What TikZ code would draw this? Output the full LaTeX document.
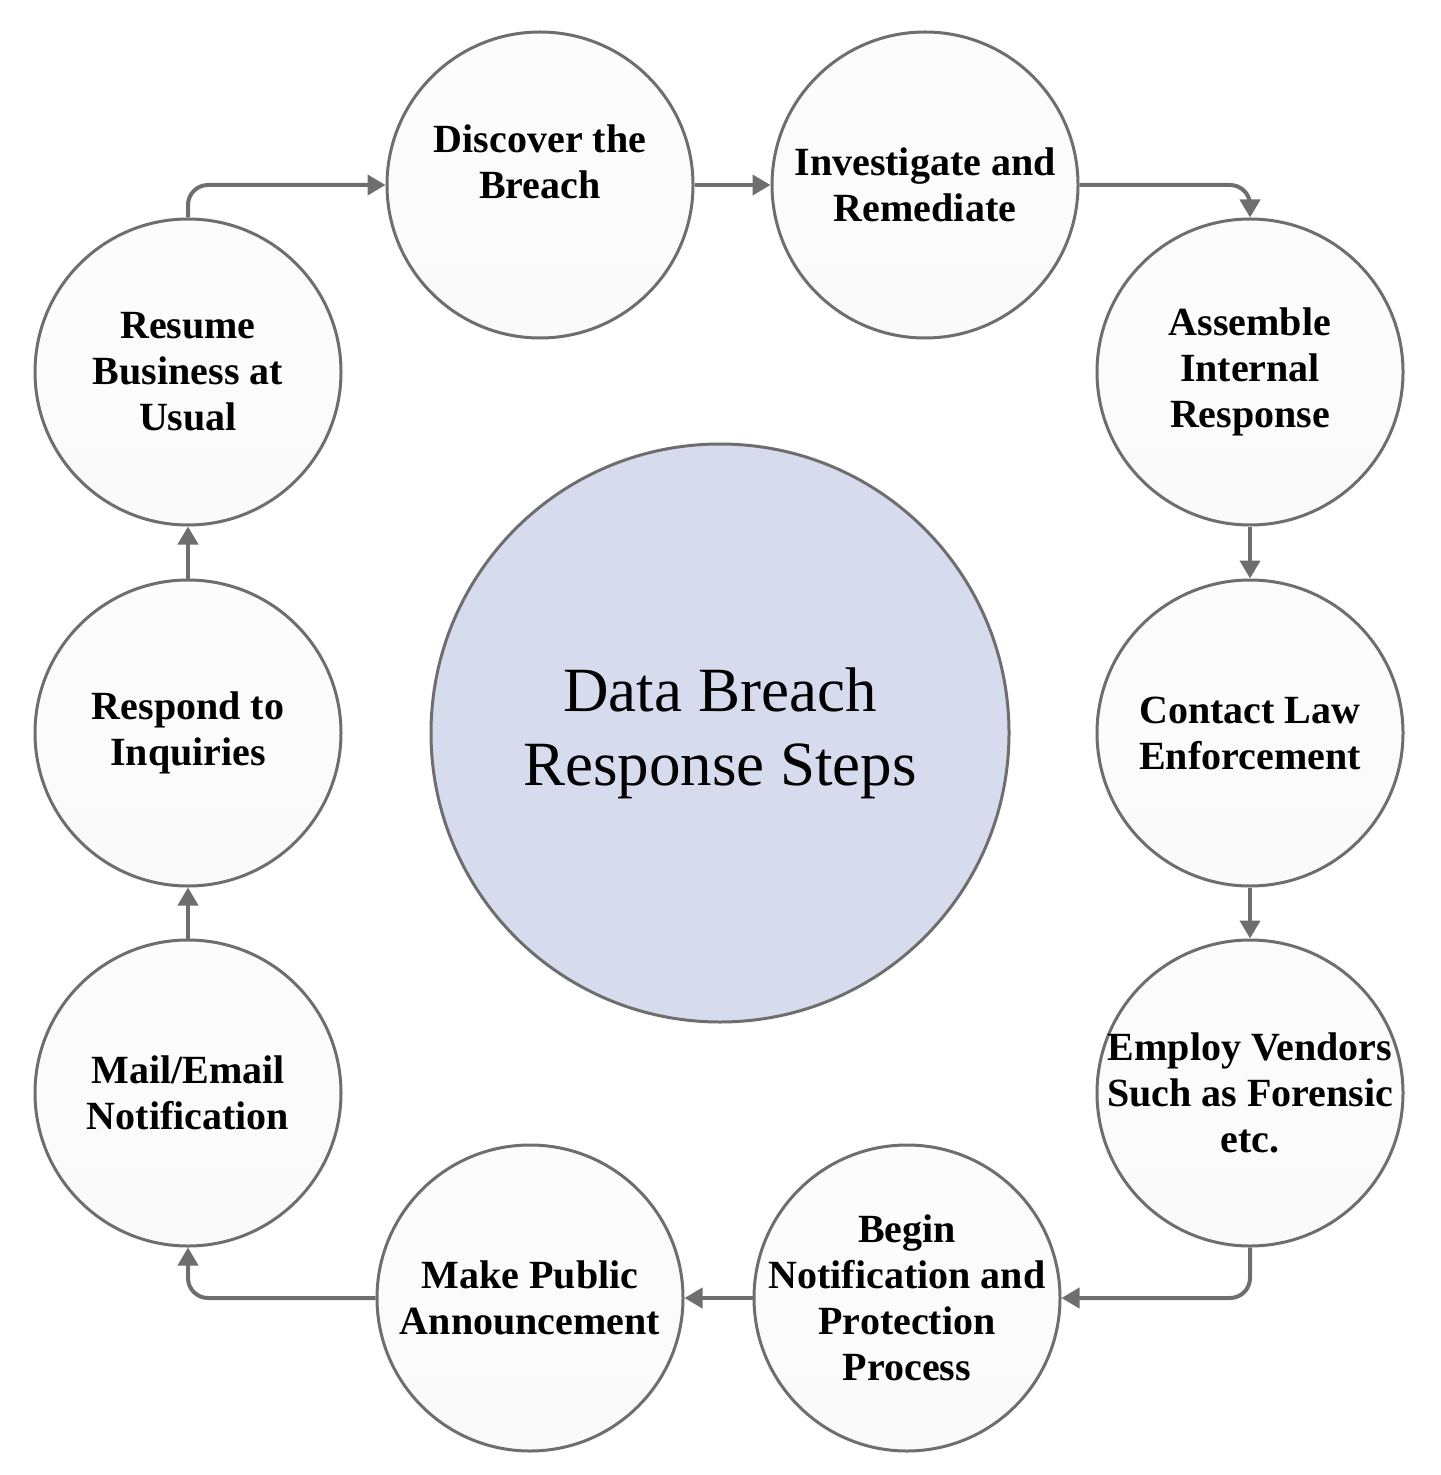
\documentclass[tikz,border=0pt]{standalone}
\usepackage{fontspec}
\setmainfont{Liberation Serif}
\usetikzlibrary{arrows.meta}
\definecolor{ringgray}{RGB}{110,110,110}
\definecolor{hubtop}{RGB}{214,219,238}
\definecolor{hubmid}{RGB}{188,196,227}
\begin{document}
\begin{tikzpicture}[x=0.5pt,y=-0.5pt,
  stepnode/.style={circle,draw=ringgray,line width=1.5pt,minimum size=153pt,
    inner sep=-14pt,align=center,font=\fontsize{20}{23}\selectfont\bfseries,
    top color=white!99!black,middle color=white!90!black,bottom color=white!98!black},
  hubnode/.style={circle,draw=ringgray,line width=1.5pt,minimum size=289pt,
    inner sep=0pt,align=center,font=\fontsize{31.5}{37}\selectfont,
    top color=hubtop,middle color=hubmid,bottom color=hubtop},
  flow/.style={draw=ringgray,line width=2pt,rounded corners=10pt,
    -{Triangle[length=9pt,width=10pt]}}]
  \useasboundingbox (0,0) rectangle (1440,1475);
  % Centre
  \node[hubnode] (hub) at (720,733) {Data Breach\\Response Steps};
  % Steps round the ring
  \node[stepnode] (disc) at (540,185) {Discover the\\Breach\\~};
  \node[stepnode] (inv) at (925,185) {Investigate and\\Remediate};
  \node[stepnode] (asm) at (1250,372) {Assemble\\Internal\\Response};
  \node[stepnode] (law) at (1250,733) {Contact Law\\Enforcement};
  \node[stepnode] (vend) at (1250,1093) {Employ Vendors\\Such as Forensic\\etc.};
  \node[stepnode] (notif) at (907,1298) {Begin\\Notification and\\Protection\\Process};
  \node[stepnode] (pub) at (530,1298) {Make Public\\Announcement};
  \node[stepnode] (mail) at (188,1093) {Mail/Email\\Notification};
  \node[stepnode] (resp) at (188,733) {Respond to\\Inquiries};
  \node[stepnode] (resume) at (188,372) {Resume\\Business at\\Usual};
  % Connectors
  \draw[flow] (resume.north) |- (disc.west);
  \draw[flow] (disc) -- (inv);
  \draw[flow] (inv.east) -| (asm.north);
  \foreach \a/\b in {asm/law,law/vend,notif/pub,mail/resp,resp/resume} {
    \draw[flow] (\a) -- (\b);
  }
  \draw[flow] (vend.south) |- (notif.east);
  \draw[flow] (pub.west) -| (mail.south);
\end{tikzpicture}
\end{document}
